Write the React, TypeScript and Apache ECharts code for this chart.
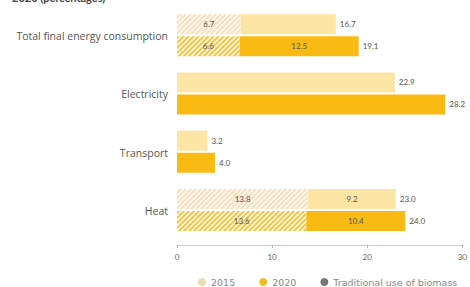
import React, { useEffect, useRef } from "react";
import * as echarts from "echarts";

const categories = ["Total final energy consumption", "Electricity", "Transport", "Heat"];
const trad2015 = [6.7, 0, 0, 13.8];
const modern2015 = [10.0, 22.9, 3.2, 9.2];
const total2015 = [16.7, 22.9, 3.2, 23.0];
const trad2020 = [6.6, 0, 0, 13.6];
const modern2020 = [12.5, 28.2, 4.0, 10.4];
const total2020 = [19.1, 28.2, 4.0, 24.0];
const modernLabel2015 = [false, false, false, true];
const modernLabel2020 = [true, false, false, true];
const xTicks = [0, 10, 20, 30];

function stripes(bg: string, fg: string) {
  const c = document.createElement("canvas");
  c.width = 5;
  c.height = 5;
  const ctx = c.getContext("2d")!;
  ctx.fillStyle = bg;
  ctx.fillRect(0, 0, 5, 5);
  ctx.strokeStyle = fg;
  ctx.lineWidth = 1.8;
  ctx.beginPath();
  ctx.moveTo(-1, 6);
  ctx.lineTo(6, -1);
  ctx.moveTo(-1, 1);
  ctx.lineTo(1, -1);
  ctx.moveTo(4, 6);
  ctx.lineTo(6, 4);
  ctx.stroke();
  return c;
}

export default function App() {
  const ref = useRef<HTMLDivElement>(null);
  useEffect(() => {
    const chart = echarts.init(ref.current!, undefined, { renderer: "svg" });
    const font = "Lato, 'Open Sans', sans-serif";
    const wide = "'Open Sans', sans-serif";
    const pale = "#FDE5A6";
    const gold = "#F9BA14";
    const hatch2015 = { image: stripes("#FFF9F0", "#F9DDB9"), repeat: "repeat" };
    const hatch2020 = { image: stripes("#FFF8E6", "#F5C23A"), repeat: "repeat" };
    const inside = { show: true, position: "inside", fontSize: 8, color: "#555", fontFamily: font };
    const fmt = (p: any) => (p.value > 0 ? p.value.toFixed(1) : "");
    chart.setOption({
      animation: false,
      graphic: [
        { type: "text", left: 12, top: -8, style: { text: "2020 (percentages)", fontSize: 11, fontWeight: "bold", fill: "#444", fontFamily: font } },
      ],
      legend: {
        data: [
          { name: "2015", itemStyle: { color: "#F1DAB0" } },
          { name: "2020", itemStyle: { color: "#E9BE1E" } },
          { name: "Traditional use of biomass", itemStyle: { color: "#777" } },
        ],
        icon: "circle",
        itemWidth: 8,
        itemHeight: 8,
        itemGap: 24,
        left: 193,
        top: 272,
        textStyle: { fontSize: 9.5, color: "#888", fontFamily: "'DejaVu Sans', sans-serif" },
      },
      grid: { left: 177, right: 7, top: 7, height: 233, containLabel: false },
      xAxis: {
        type: "value",
        min: 0,
        max: 30,
        interval: 10,
        offset: 5,
        axisLine: { show: true, lineStyle: { color: "#c9c9dc", width: 1 } },
        axisTick: { show: true, length: 3, lineStyle: { color: "#b0b0c8" } },
        splitLine: { show: false },
        axisLabel: { fontSize: 8, color: "#666", fontFamily: font, margin: 8, formatter: (v: number) => (xTicks.includes(v) ? String(v) : "") },
      },
      yAxis: {
        type: "category",
        data: categories,
        inverse: true,
        axisLine: { show: false },
        axisTick: { show: false },
        axisLabel: { fontSize: 10.5, color: "#555", fontFamily: wide, margin: 9 },
      },
      series: [
        {
          name: "2015 traditional",
          type: "bar",
          stack: "a",
          barWidth: 20,
          barGap: "10%",
          data: trad2015,
          itemStyle: { color: hatch2015 },
          label: { ...inside, formatter: fmt },
        },
        {
          name: "2015",
          type: "bar",
          stack: "a",
          data: modern2015.map((v, i) => ({ value: v, label: { show: modernLabel2015[i] } })),
          itemStyle: { color: pale },
          label: { ...inside, formatter: fmt },
        },
        {
          name: "2015 total",
          type: "bar",
          stack: "a",
          data: total2015.map(() => 0),
          itemStyle: { color: "transparent" },
          label: { show: true, position: "right", distance: 4, fontSize: 8, color: "#555", fontFamily: font, formatter: (p: any) => total2015[p.dataIndex].toFixed(1) },
        },
        {
          name: "2020 traditional",
          type: "bar",
          stack: "b",
          barWidth: 20,
          data: trad2020,
          itemStyle: { color: hatch2020 },
          label: { ...inside, formatter: fmt },
        },
        {
          name: "2020",
          type: "bar",
          stack: "b",
          data: modern2020.map((v, i) => ({ value: v, label: { show: modernLabel2020[i] } })),
          itemStyle: { color: gold },
          label: { ...inside, formatter: fmt },
        },
        {
          name: "2020 total",
          type: "bar",
          stack: "b",
          data: total2020.map(() => 0),
          itemStyle: { color: "transparent" },
          label: { show: true, position: "right", distance: 4, fontSize: 8, color: "#555", fontFamily: font, formatter: (p: any) => total2020[p.dataIndex].toFixed(1) },
        },
        { name: "Traditional use of biomass", type: "bar", data: [], itemStyle: { color: "#777" } },
      ],
    });
    return () => chart.dispose();
  }, []);
  return <div ref={ref} style={{ width: 470, height: 287, position: "absolute", left: 0, top: 0 }} />;
}
